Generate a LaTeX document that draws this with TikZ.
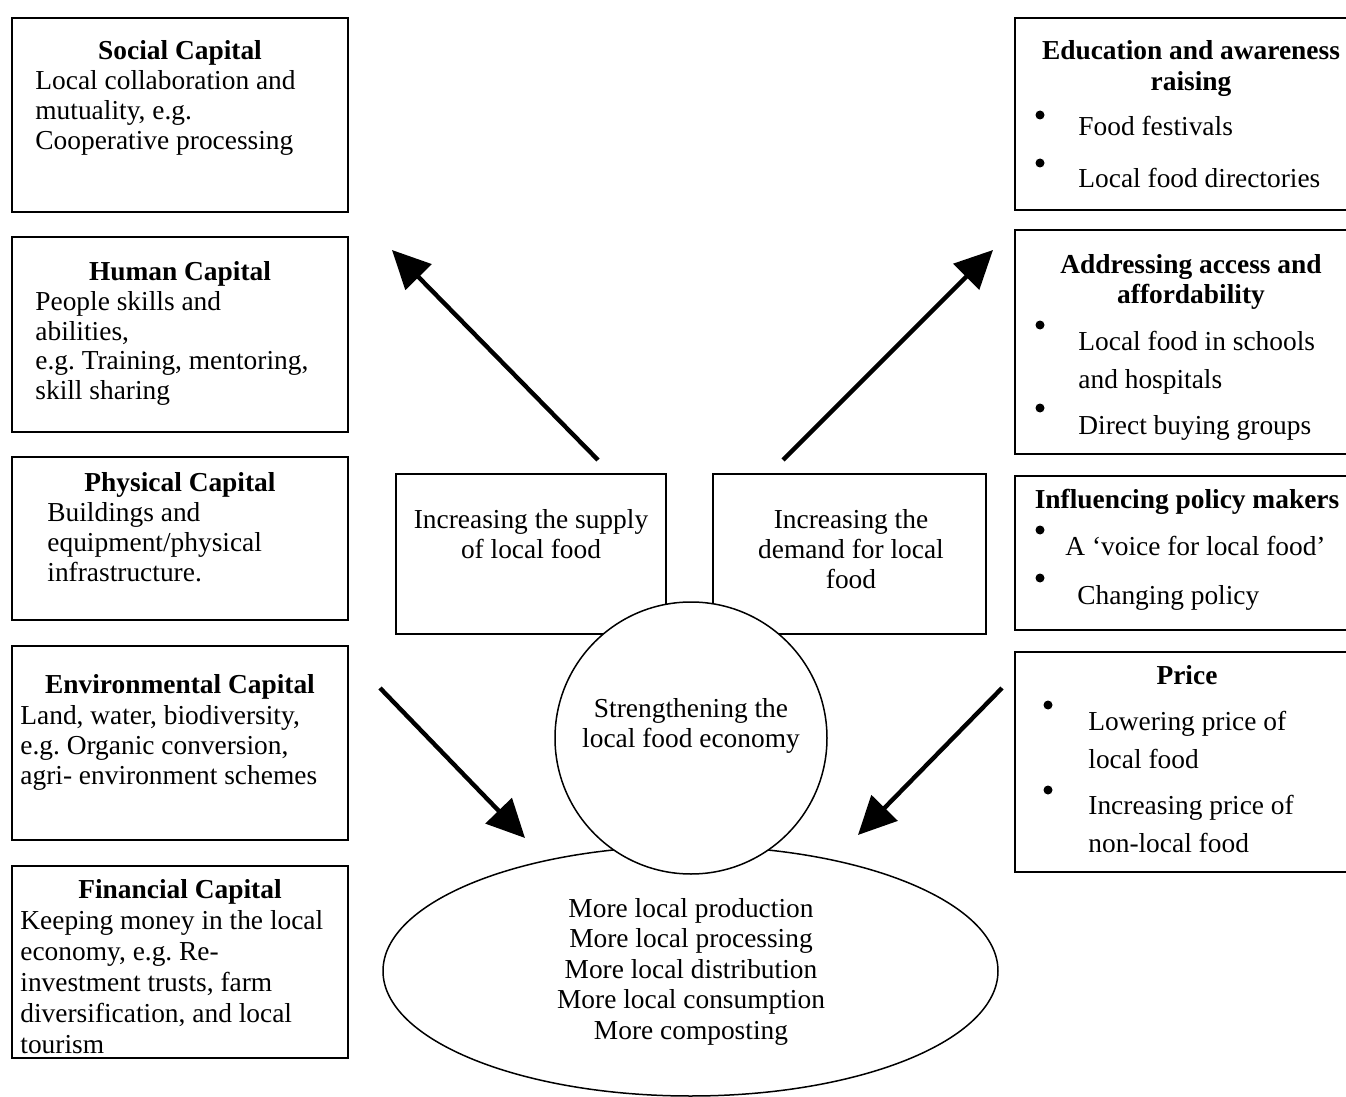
\documentclass[tikz,border=0pt]{standalone}
\usepackage{fontspec}
\setmainfont{Liberation Serif}
\usetikzlibrary{arrows.meta}
\usetikzlibrary{shapes.geometric}
\frenchspacing

\begin{document}
\begin{tikzpicture}[x=0.5pt,y=-0.5pt,
  every node/.style={inner sep=0pt, font=\fontsize{13.7}{15}\selectfont},
  capbox/.style={draw, line width=0.75pt, minimum width=168pt},
  txt/.style={yshift=-1.5pt},
  title/.style={txt, anchor=base, font=\fontsize{13.7}{15.5}\selectfont\bfseries, align=center},
  body/.style={txt, anchor=base west, align=left},
  item/.style={txt, anchor=base west, align=left, font=\fontsize{13.7}{19}\selectfont},
  dot/.style={circle, fill, minimum size=4.5pt},
  bigarrow/.style={line width=2.2pt, -{Triangle[length=19pt,width=18pt]}}]
\useasboundingbox (0,0) rectangle (1346,1097);

% left column: the five capitals
% (multi-line texts sit on the baseline of their last line)
\node[capbox, minimum height=97pt] (social) at (180,115) {};
\node[title] (socialt) at (180,57) {Social Capital};
\node[body] (socialb) at (35,147) {Local collaboration and\\mutuality, e.g.\\Cooperative processing};

\node[capbox, minimum height=97.5pt] (human) at (180,334.5) {};
\node[title] (humant) at (180,277) {Human Capital};
\node[body] (humanb) at (35,397) {People skills and\\abilities,\\e.g. Training, mentoring,\\skill sharing};

\node[capbox, minimum height=81.5pt] (physical) at (180,538.5) {};
\node[title] (physicalt) at (180,488) {Physical Capital};
\node[body] (physicalb) at (47,578) {Buildings and\\equipment/physical\\infrastructure.};

\node[capbox, minimum height=97pt] (environ) at (180,743) {};
\node[title] (environt) at (180,690) {Environmental Capital};
\node[body] (environb) at (20,781) {Land, water, biodiversity,\\e.g. Organic conversion,\\agri- environment schemes};

\node[capbox, minimum height=96pt] (financial) at (180,962) {};
\node[title] (financialt) at (180,895) {Financial Capital};
\node[body, font=\fontsize{13.7}{15.4}\selectfont] (financialb) at (20,1050) {Keeping money in the local\\economy, e.g. Re-\\investment trusts, farm\\diversification, and local\\tourism};

% right column, runs off the page edge
\node[capbox, minimum width=176pt, minimum height=96pt] (educ) at (1191,114) {};
\node[title] (educt) at (1191,88) {Education and awareness\\raising};
\node[dot] (educd1) at (1040,115) {};
\node[item] (educi1) at (1078,133) {Food festivals};
\node[dot] (educd2) at (1040,163) {};
\node[item] (educi2) at (1078,185) {Local food directories};

\node[capbox, minimum width=176pt, minimum height=112pt] (access) at (1191,342) {};
\node[title] (accesst) at (1191,301) {Addressing access and\\affordability};
\node[dot] (accessd1) at (1040,325) {};
\node[item] (accessi1) at (1078,385) {Local food in schools\\and hospitals};
\node[dot] (accessd2) at (1040,408) {};
\node[item] (accessi2) at (1078,431) {Direct buying groups};

\node[capbox, minimum width=176pt, minimum height=77pt] (policy) at (1191,553) {};
\node[title] (policyt) at (1187,505) {Influencing policy makers};
\node[dot] (policyd1) at (1040,530) {};
\node[item] (policyi1) at (1065,552) {A `voice for local food'};
\node[dot] (policyd2) at (1040,578) {};
\node[item] (policyi2) at (1077,601) {Changing policy};

\node[capbox, minimum width=176pt, minimum height=110pt] (price) at (1191,762) {};
\node[title] (pricet) at (1187,681) {Price};
\node[dot] (priced1) at (1048,705) {};
\node[item] (pricei1) at (1088,765) {Lowering price of\\local food};
\node[dot] (priced2) at (1048,790) {};
\node[item] (pricei2) at (1088,849) {Increasing price of\\non-local food};

% middle
\node[capbox, minimum width=135pt, minimum height=80pt] (supply) at (531,554) {};
\node[txt, anchor=base, align=center] (supplyt) at (531,555) {Increasing the supply\\of local food};
\node[capbox, minimum width=136.5pt, minimum height=80pt] (demand) at (849.5,554) {};
\node[txt, anchor=base, align=center] (demandt) at (851,585) {Increasing the\\demand for local\\food};

\node[ellipse, draw, fill=white, line width=0.75pt, minimum width=307.5pt, minimum height=125pt] (outcomes) at (690.5,971) {};
\node[txt, anchor=base, align=center, font=\fontsize{13.7}{15.2}\selectfont] (outcomest) at (691,1036) {More local production\\More local processing\\More local distribution\\More local consumption\\More composting};

\node[circle, draw, fill=white, line width=0.75pt, minimum size=136pt] (hub) at (691,738) {};
\node[txt, anchor=base, align=center] (hubt) at (691,744) {Strengthening the\\local food economy};

% arrows
\coordinate (supfrom) at (598,460);
\coordinate (supto) at (392,250);
\coordinate (demfrom) at (783,460);
\coordinate (demto) at (993,250);
\coordinate (capfrom) at (380,688);
\coordinate (capto) at (525,838);
\coordinate (prfrom) at (1002,688);
\coordinate (prto) at (858,835);
\draw[bigarrow] (supfrom) -- (supto);
\draw[bigarrow] (demfrom) -- (demto);
\draw[bigarrow] (capfrom) -- (capto);
\draw[bigarrow] (prfrom) -- (prto);

\end{tikzpicture}
\end{document}
